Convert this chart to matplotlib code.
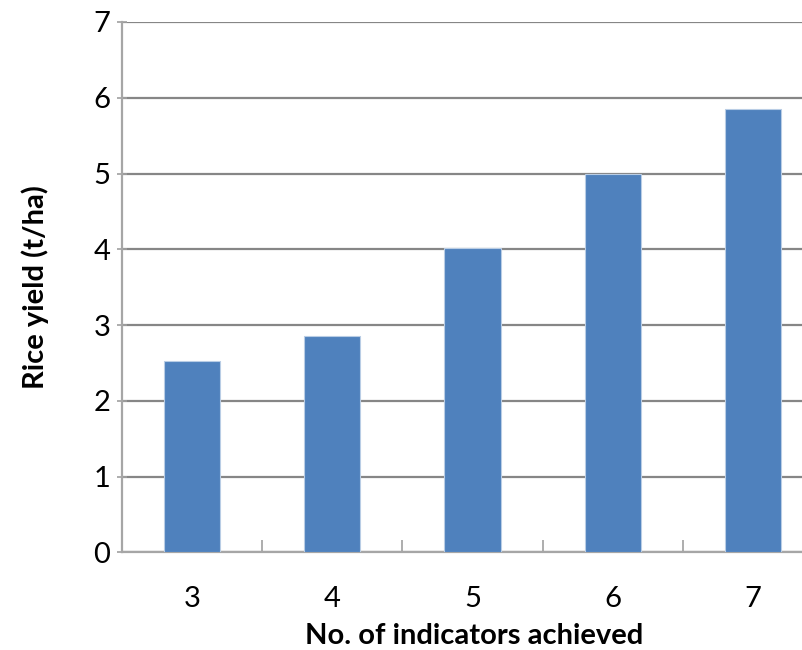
import matplotlib
matplotlib.use("Agg")
import matplotlib.pyplot as plt
import numpy as np

categories = ["3", "4", "5", "6", "7"]
yield_t_ha = [2.52, 2.86, 4.02, 5.00, 5.85]
y_ticks = [0, 1, 2, 3, 4, 5, 6, 7]

plt.rcParams['font.family'] = ['Lato', 'DejaVu Sans']

fig = plt.figure(figsize=(8.02, 6.5), dpi=100)
ax = fig.add_axes([122/802, 1-552.3/650, 701/802, (552.3-22)/650])

x = np.arange(len(categories))
ax.bar(x, yield_t_ha, width=0.40, color="#4F81BD", edgecolor="#B9CDE5", linewidth=0.8, zorder=3)

ax.set_xlim(-0.5, len(categories)-0.5)
ax.set_ylim(0, 7)
ax.set_yticks(y_ticks)
ax.set_yticklabels([str(v) for v in y_ticks])
ax.yaxis.grid(True, color="#868686", linewidth=1.6, zorder=0)
ax.set_axisbelow(True)

ax.set_xticks(x)
ax.set_xticklabels(categories)
ax.set_xticks(np.arange(len(categories)+1)-0.5, minor=True)
ax.tick_params(axis='x', which='major', length=0, pad=24, labelsize=21)
ax.tick_params(axis='x', which='minor', length=9, direction='in', color="#A0A0A0", width=1.2)
ax.tick_params(axis='y', which='major', length=7, direction='inout', color="#A0A0A0", width=1.2, pad=5, labelsize=21)

for s in ['top', 'right']:
    ax.spines[s].set_visible(False)
for s in ['left', 'bottom']:
    ax.spines[s].set_color("#A6A6A6")
    ax.spines[s].set_linewidth(1.6)

ax.set_xlabel("No. of indicators achieved", fontsize=21, fontweight='bold', va='center')
ax.set_ylabel("Rice yield (t/ha)", fontsize=21, fontweight='bold', va='center')
ax.xaxis.set_label_coords((474-122)/701, -(636-552.3)/530.3)
ax.yaxis.set_label_coords(-(122-35)/701, (552.3-287)/530.3)

fig.savefig("out.png", dpi=100)
